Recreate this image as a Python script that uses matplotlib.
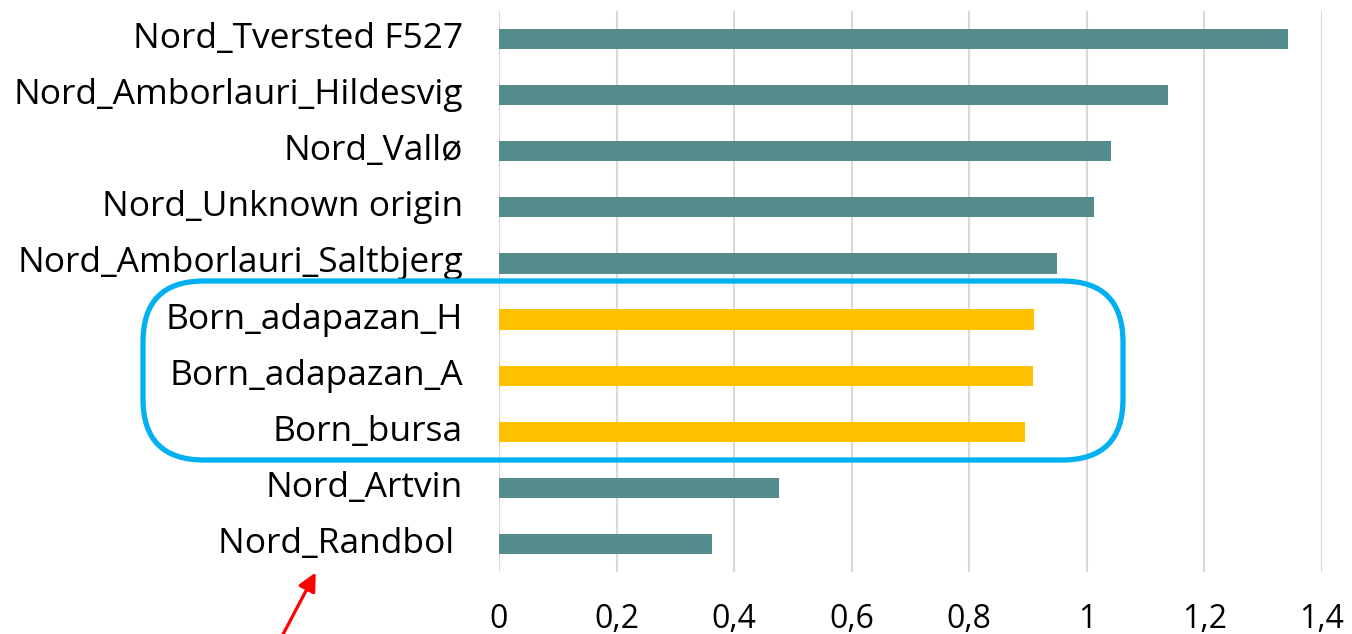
import numpy as np
import matplotlib.pyplot as plt
from matplotlib.patches import FancyBboxPatch, FancyArrowPatch

labels = ["Nord_Tversted F527", "Nord_Amborlauri_Hildesvig", "Nord_Vallø",
          "Nord_Unknown origin", "Nord_Amborlauri_Saltbjerg", "Born_adapazan_H",
          "Born_adapazan_A", "Born_bursa", "Nord_Artvin", "Nord_Randbol "]
values = [1.342, 1.138, 1.041, 1.012, 0.949, 0.910, 0.908, 0.895, 0.476, 0.362]
groups = ["Nord", "Nord", "Nord", "Nord", "Nord", "Born", "Born", "Born", "Nord", "Nord"]
xticks = [0, 0.2, 0.4, 0.6, 0.8, 1.0, 1.2, 1.4]
xtick_labels = ["0", "0,2", "0,4", "0,6", "0,8", "1", "1,2", "1,4"]

colors = {"Nord": "#548C8C", "Born": "#FFC000"}
plt.rcParams['font.family'] = ['Open Sans', 'DejaVu Sans']

fig = plt.figure(figsize=(13.52, 6.34), dpi=100)
ax = fig.add_axes([499/1352, 1 - 572/634, (1322 - 499)/1352, (572 - 11)/634])

y = np.arange(len(labels))
ax.barh(y, values, height=0.36, color=[colors[g] for g in groups], zorder=3)
ax.set_ylim(len(labels) - 0.5, -0.5)
ax.set_xlim(0, 1.4)
ax.set_yticks(y)
ax.set_yticklabels(labels, fontsize=25.5, va='bottom')
for t in ax.get_yticklabels():
    t.set_va('center')
ax.set_xticks(xticks)
ax.set_xticklabels(xtick_labels, fontsize=23)
ax.tick_params(axis='y', length=0, pad=26)
ax.tick_params(axis='x', length=0, pad=22)
ax.grid(axis='x', color='#D9D9D9', linewidth=1.5, zorder=0)
for s in ax.spines.values():
    s.set_visible(False)

# blue rounded box around Born group (figure pixel coordinates)
W, H = 1352, 634
box = FancyBboxPatch((143/W, 1 - 460/H), (1123 - 143)/W, (460 - 281)/H,
                     boxstyle="round,pad=0,rounding_size=0.045",
                     transform=fig.transFigure, fill=False,
                     edgecolor='#00B0F0', linewidth=3.8, mutation_aspect=W/H)
fig.patches.append(box)

arrow = FancyArrowPatch((280/W, 1 - 640/H), (317/W, 1 - 570/H),
                        transform=fig.transFigure, color='red',
                        arrowstyle='-|>,head_length=11,head_width=5.5', linewidth=2.3)
fig.patches.append(arrow)

fig.savefig("out.png", dpi=100)
